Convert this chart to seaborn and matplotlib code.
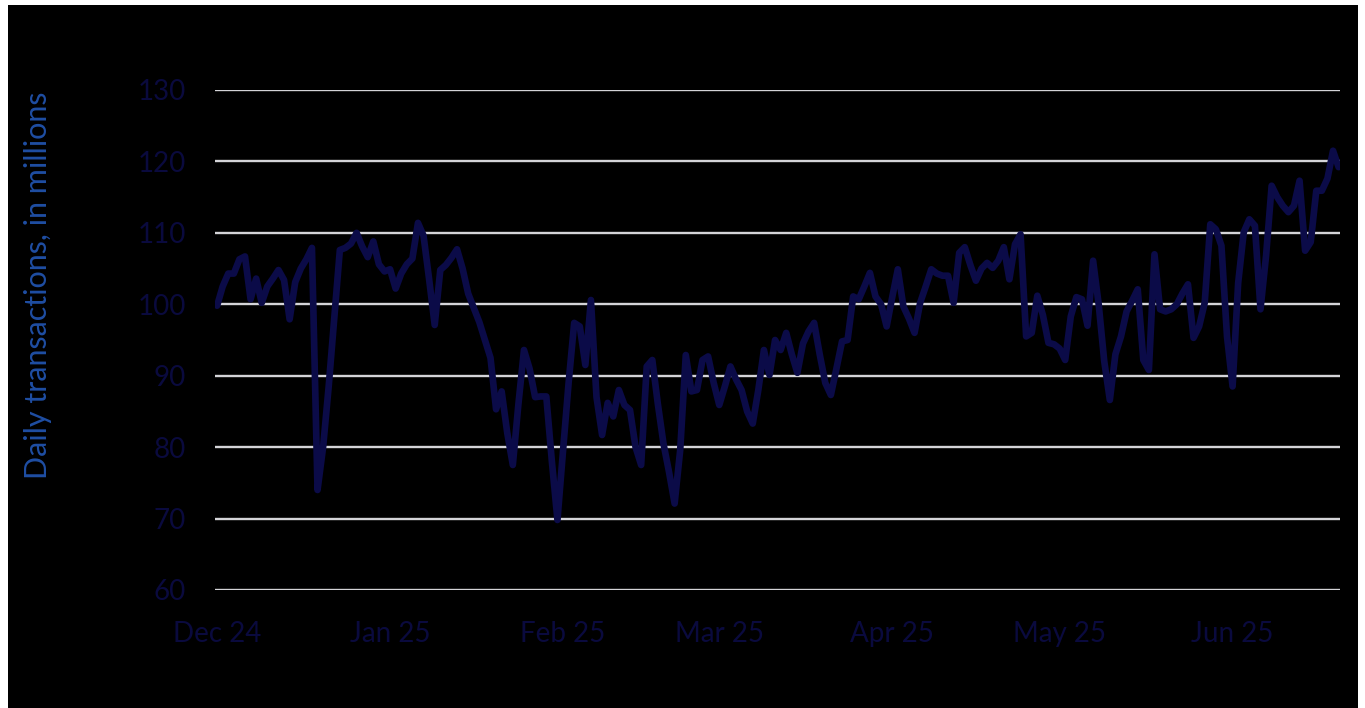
import pandas as pd
import matplotlib.pyplot as plt
import matplotlib.dates as mdates
from matplotlib.patches import Rectangle
import seaborn as sns

sns.set_theme(style="dark")
plt.rcParams['font.family'] = ['Lato', 'DejaVu Sans']

# daily values (Dec 2024 - Jun 2025)
start_date = "2024-12-01"
transactions = [
    99.8, 102.5, 104.3, 104.3, 106.3, 106.7, 100.7, 103.6, 100.2, 102.5,
    103.6, 104.8, 103.4, 97.9, 103.1, 105.0, 106.3, 107.9, 74.0, 80.0,
    88.5, 98.0, 107.6, 107.9, 108.5, 110.0, 108.1, 106.6, 108.8, 105.6,
    104.6, 104.9, 102.2, 104.3, 105.6, 106.4, 111.4, 109.6, 103.5, 97.1,
    104.8, 105.5, 106.5, 107.7, 105.0, 101.5, 99.5, 97.5, 95.0, 92.5,
    85.3, 87.8, 82.0, 77.5, 86.0, 93.6, 91.0, 87.0, 87.1, 87.1,
    78.0, 69.8, 79.5, 89.0, 97.4, 96.9, 91.5, 100.6, 87.0, 81.7,
    86.2, 84.3, 88.0, 85.9, 85.2, 80.0, 77.5, 91.3, 92.2, 86.0,
    80.5, 76.5, 72.1, 79.6, 92.9, 87.8, 88.0, 92.2, 92.7, 89.0,
    85.9, 88.5, 91.3, 89.5, 88.0, 85.0, 83.3, 88.0, 93.6, 90.1,
    95.0, 93.6, 96.0, 93.0, 90.4, 94.5, 96.2, 97.4, 93.0, 89.0,
    87.3, 91.0, 94.8, 95.0, 101.1, 100.7, 102.5, 104.4, 101.1, 100.0,
    96.9, 101.0, 104.9, 99.7, 98.0, 96.0, 100.2, 102.5, 104.9, 104.3,
    104.0, 104.0, 100.2, 107.2, 108.0, 105.5, 103.3, 105.0, 105.8, 105.1,
    106.1, 108.0, 103.5, 108.4, 109.8, 95.5, 96.0, 101.2, 98.5, 94.6,
    94.4, 93.8, 92.2, 98.3, 101.0, 100.7, 97.0, 106.1, 100.0, 92.0,
    86.6, 93.0, 95.5, 99.0, 100.5, 102.1, 92.2, 90.8, 107.0, 99.3,
    99.0, 99.3, 100.0, 101.5, 102.8, 95.3, 96.9, 100.2, 111.2, 110.5,
    108.2, 95.5, 88.5, 103.0, 110.1, 111.9, 111.0, 99.3, 106.8, 116.6,
    115.0, 113.8, 112.9, 113.8, 117.3, 107.5, 108.7, 115.9, 115.9, 117.6,
    121.5, 119.2,
]
y_ticks = [60, 70, 80, 90, 100, 110, 120, 130]

df = pd.DataFrame({
    "date": pd.date_range(start_date, periods=len(transactions), freq="D"),
    "value": transactions,
})

LINE_COLOR = "#0b0b48"
TICK_COLOR = "#0a0a3e"
LABEL_COLOR = "#1f4ea3"

fig = plt.figure(figsize=(13.65, 7.08), dpi=100, facecolor="white")
# black panel with thin white margins, like the screenshot
fig.patches.append(Rectangle((8 / 1365, 0), 1350 / 1365, 703 / 708,
                             transform=fig.transFigure, facecolor="black",
                             edgecolor="none", zorder=-5))
ax = fig.add_axes([215 / 1365, 1 - 590 / 708, 1125 / 1365, 500 / 708])
ax.set_facecolor("black")

sns.lineplot(data=df, x="date", y="value", ax=ax, color=LINE_COLOR,
             linewidth=4.8, zorder=3)

ax.set_ylim(60, 130)
ax.set_yticks(y_ticks)
ax.set_xlim(df["date"].iloc[0] - pd.Timedelta(hours=9),
            df["date"].iloc[-1] + pd.Timedelta(hours=6))
ax.xaxis.set_major_locator(mdates.MonthLocator())
ax.xaxis.set_major_formatter(mdates.DateFormatter("%b %y"))

ax.grid(axis="y", color="#d4d4d8", linewidth=1.7, zorder=1)
ax.grid(axis="x", visible=False)
for s in ax.spines.values():
    s.set_visible(False)

ax.tick_params(axis="y", length=0, pad=21, labelsize=20, labelcolor=TICK_COLOR)
ax.tick_params(axis="x", length=0, pad=22, labelsize=20, labelcolor=TICK_COLOR)

ax.set_xlabel("")
ax.set_ylabel("Daily transactions, in millions", fontsize=22, color=LABEL_COLOR)
ax.yaxis.set_label_coords(-0.145, 0.61)

fig.savefig("out.png", dpi=100, facecolor=fig.get_facecolor())
